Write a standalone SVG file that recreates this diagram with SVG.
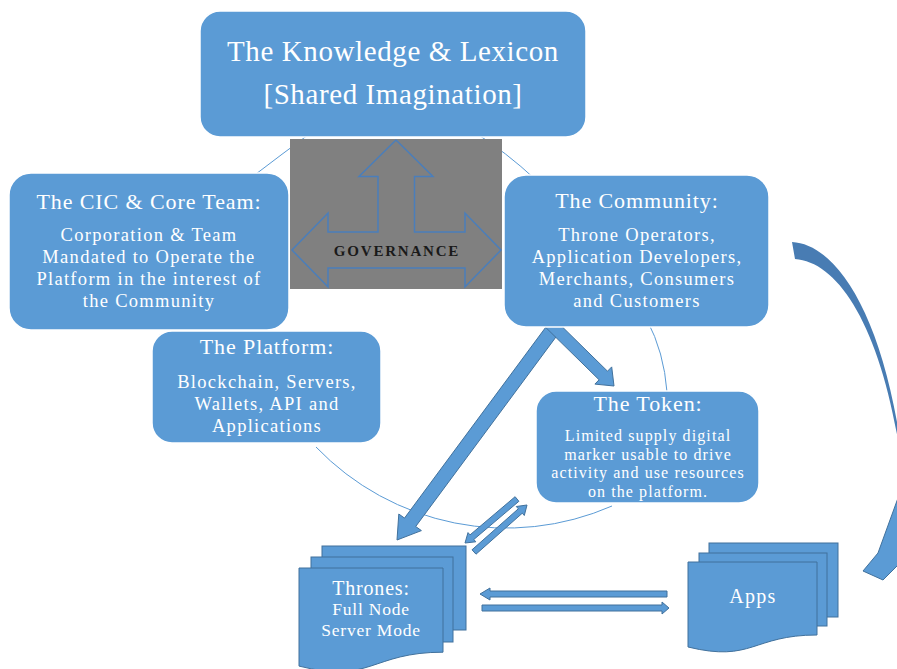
<svg xmlns="http://www.w3.org/2000/svg" width="897" height="669" viewBox="0 0 897 669">
<style>
.box{fill:#5B9BD5;stroke:#FFFFFF;stroke-width:1.5}
.doc{fill:#5B9BD5;stroke:#41719C;stroke-width:1}
.arw{fill:#5B9BD5;stroke:#41719C;stroke-width:1}
.arc{fill:none;stroke:#5B9BD5;stroke-width:1}
text{font-family:"Liberation Serif","Times New Roman",serif;fill:#FFFFFF;text-anchor:middle}
.h1{font-size:29px;letter-spacing:0.6px}
.h2{font-size:22px;letter-spacing:0.9px}
.b1{font-size:18.5px;letter-spacing:1.3px}
.b2{font-size:16px;letter-spacing:1.1px}
.gov{font-size:15px;font-weight:bold;fill:#1A1A1A;letter-spacing:1.8px}
</style>
<rect width="897" height="669" fill="#FFFFFF"/>
<g id="connectors">
  <path class="arc" d="M252,177 Q282,154 312,132"/>
  <path class="arc" d="M474,132 Q506,152 536,180"/>
  <path class="arc" d="M647,320 Q664,352 667,392"/>
  <path class="arc" d="M316,447 A264,264 0 0 0 612,506"/>
  <polygon class="arw" points="555.7,313.8 404.5,518.1 398.8,514.0 397,540 421.4,530.6 415.7,526.5 566.9,322.2"/>
  <polygon class="arw" points="548.9,313.7 607.5,371.2 611.7,366.9 614,386 594.9,384.1 599.1,379.8 540.5,322.3"/>
  <polygon class="arw" points="515.1,496.7 470.0,534.9 468.0,532.6 465,543 475.8,541.8 473.8,539.5 518.9,501.3"/>
  <polygon class="arw" points="472.0,549.8 518.3,508.8 516.3,506.5 527,505 524.3,515.5 522.3,513.2 476.0,554.2"/>
  <polygon class="arw" points="667,591 490,591 490,588 480,594 490,600 490,597 667,597"/>
  <polygon class="arw" points="482,605 662,605 662,602 669,608 662,614 662,611 482,611"/>
  <path d="M792,242 C835,244 880,310 900,440 L900,452 C880,325 838,262 795,259 Z" fill="#487CB3"/>
  <path class="arw" d="M898,498 L878,553 L863,571 L883,580 L898,565 Z"/>
</g>
<g id="knowledge">
  <rect class="box" x="200" y="11" width="386" height="126" rx="20"/>
  <text class="h1" x="393" y="61">The Knowledge &amp; Lexicon</text>
  <text class="h1" x="393" y="104">[Shared Imagination]</text>
</g>
<g id="governance">
  <rect x="290" y="139" width="212" height="150" fill="#808080"/>
  <path d="M396,140 L433,176.5 L414.5,176.5 L414.5,232 L465,232 L465,213 L501,250 L465,287 L465,268 L328,268 L328,287 L292,250 L328,213 L328,232 L378,232 L378,176.5 L359,176.5 Z" fill="none" stroke="#4A7EBB" stroke-width="1.5"/>
  <text class="gov" x="397" y="256">GOVERNANCE</text>
</g>
<g id="cic">
  <rect class="box" x="9" y="173" width="280" height="157" rx="22"/>
  <text class="h2" x="149" y="209">The CIC &amp; Core Team:</text>
  <text class="b1" x="149" y="241">Corporation &amp; Team</text>
  <text class="b1" x="149" y="263">Mandated to Operate the</text>
  <text class="b1" x="149" y="284.5">Platform in the interest of</text>
  <text class="b1" x="149" y="306.5">the Community</text>
</g>
<g id="community">
  <rect class="box" x="504" y="175" width="265" height="152" rx="22"/>
  <text class="h2" x="637" y="208">The Community:</text>
  <text class="b1" x="637" y="241">Throne Operators,</text>
  <text class="b1" x="637" y="263">Application Developers,</text>
  <text class="b1" x="637" y="284.5">Merchants, Consumers</text>
  <text class="b1" x="637" y="306.5">and Customers</text>
</g>
<g id="platform">
  <rect class="box" x="152" y="331" width="229" height="112" rx="20"/>
  <text class="h2" x="267" y="354">The Platform:</text>
  <text class="b1" x="267" y="388">Blockchain, Servers,</text>
  <text class="b1" x="267" y="410">Wallets, API and</text>
  <text class="b1" x="267" y="431.5">Applications</text>
</g>
<g id="token">
  <rect class="box" x="536" y="391" width="223" height="112" rx="20"/>
  <text class="h2" x="648" y="411">The Token:</text>
  <text class="b2" x="648" y="441">Limited supply digital</text>
  <text class="b2" x="648" y="459.5">marker usable to drive</text>
  <text class="b2" x="648" y="478">activity and use resources</text>
  <text class="b2" x="648" y="496.5">on the platform.</text>
</g>
<g id="thrones">
  <rect class="doc" x="322" y="546" width="144" height="84"/>
  <rect class="doc" x="311" y="557" width="142" height="85"/>
  <path class="doc" d="M299,568 H443 V652.2 C371,652.2 371,684.3 299,666.1 Z"/>
  <text x="371" y="595" style="font-size:20px;letter-spacing:0.8px">Thrones:</text>
  <text x="371" y="615" style="font-size:17.5px;letter-spacing:0.8px">Full Node</text>
  <text x="371" y="635.5" style="font-size:17.5px;letter-spacing:0.8px">Server Mode</text>
</g>
<g id="apps">
  <rect class="doc" x="709" y="543" width="129" height="74"/>
  <rect class="doc" x="699" y="553" width="128" height="73"/>
  <path class="doc" d="M688,562 H817 V635 C752.5,635 752.5,662.8 688,647 Z"/>
  <text x="753" y="603" style="font-size:20px;letter-spacing:1.3px">Apps</text>
</g>
</svg>
